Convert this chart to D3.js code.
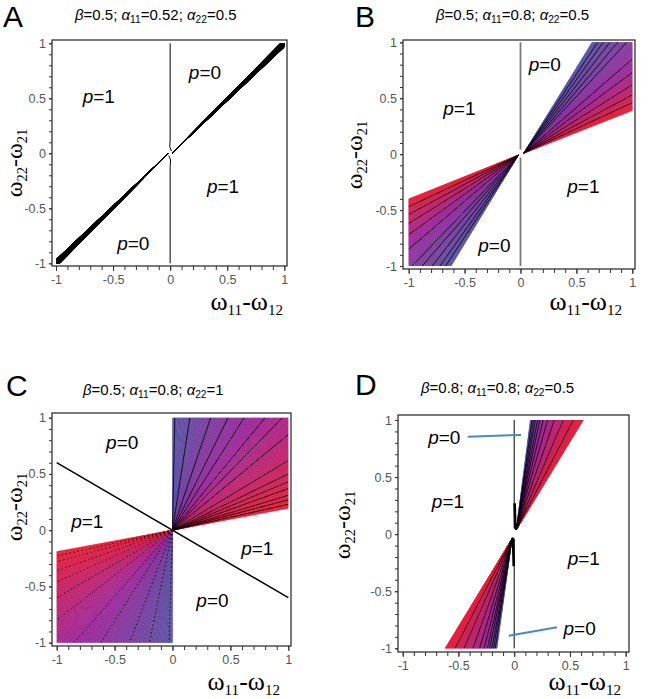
<!DOCTYPE html>
<html>
<head>
<meta charset="utf-8">
<script src="https://cdn.jsdelivr.net/npm/d3@7"></script>
<style>
  body { margin: 0; background: #fff; }
  svg { display: block; }
</style>
</head>
<body>
<svg width="656" height="699"></svg>
<script>
// axis ticks (same on every panel)
var majorTicks = [-1, -0.5, 0, 0.5, 1];
var minorTicks = [-1, -0.9, -0.8, -0.7, -0.6, -0.5, -0.4, -0.3, -0.2, -0.1, 0,
                  0.1, 0.2, 0.3, 0.4, 0.5, 0.6, 0.7, 0.8, 0.9, 1];

// panel parameters (titles)
var panelNames = ["A", "B", "C", "D"];
var betaVals = ["0.5", "0.5", "0.5", "0.8"];
var alpha11Vals = ["0.52", "0.8", "0.8", "0.8"];
var alpha22Vals = ["0.5", "0.5", "1", "0.5"];

// contour fans: apex, then where each contour ray meets the square, from p=0 (blue) edge to p=1 (red) edge
var apexA1 = [0.02, 0.005], raysA1 = [[0.965, 1], [1, 0.965]];
var apexA2 = [-0.02, -0.005], raysA2 = [[-0.965, -1], [-1, -0.965]];

var apexB1 = [0.03, 0.01];
var raysB1 = [[0.64, 1], [0.69, 1], [0.74, 1], [0.80, 1], [0.87, 1], [0.95, 1],
              [1, 0.85], [1, 0.73], [1, 0.62], [1, 0.53], [1, 0.46], [1, 0.39]];
var apexB2 = [-0.02, -0.01];
var raysB2 = [[-0.62, -1], [-0.67, -1], [-0.72, -1], [-0.79, -1], [-0.88, -1], [-0.97, -1],
              [-1, -0.85], [-1, -0.72], [-1, -0.62], [-1, -0.54], [-1, -0.47], [-1, -0.40]];

var apexC1 = [0, 0];
var raysC1 = [[0, 1], [0.02, 1], [0.15, 1], [0.33, 1], [0.48, 1], [0.62, 1], [0.80, 1], [0.95, 1],
              [1, 0.85], [1, 0.62], [1, 0.50], [1, 0.43], [1, 0.37], [1, 0.31], [1, 0.27], [1, 0.23], [1, 0.195]];
var apexC2 = [0, 0];
var raysC2 = [[0, -1], [-0.03, -1], [-0.2, -1], [-0.37, -1], [-0.62, -1], [-0.85, -1],
              [-1, -0.8], [-1, -0.6], [-1, -0.46], [-1, -0.36], [-1, -0.28], [-1, -0.23], [-1, -0.19]];

var apexD1 = [0.02, 0.04];
var raysD1 = [[0.145, 1], [0.16, 1], [0.175, 1], [0.19, 1], [0.21, 1], [0.23, 1],
              [0.26, 1], [0.30, 1], [0.36, 1], [0.44, 1], [0.53, 1], [0.62, 1]];
var apexD2 = [-0.02, -0.04];
var raysD2 = [[-0.155, -1], [-0.17, -1], [-0.185, -1], [-0.20, -1], [-0.22, -1], [-0.24, -1],
              [-0.27, -1], [-0.31, -1], [-0.37, -1], [-0.45, -1], [-0.53, -1], [-0.62, -1]];

// boundary curves
var lineA1 = [[0, 1], [0, 0.12], [-0.004, 0.06], [0.012, 0.02]];
var lineA2 = [[0, -1], [0, -0.12], [0.004, -0.06], [-0.012, -0.02]];
var lineB1 = [[0, 1], [0, 0.04]];
var lineB2 = [[0, -0.03], [0, -1]];
var lineC1 = [[-1, 0.6], [1, -0.6]];
var lineD1 = [[0, 1], [0, 0.05]];
var lineD2 = [[0, -0.04], [0, -1]];
var lineD3 = [[0.004, 0.27], [0.01, 0.06], [0.02, 0.04]];
var lineD4 = [[-0.004, -0.28], [-0.01, -0.05], [-0.02, -0.03]];
var pointerD1 = [[-0.417, 0.854], [0.061, 0.869]];
var pointerD2 = [[-0.049, -0.891], [0.384, -0.815]];

// region labels: [x, y, p]
var labelsA = [[-0.625, 0.46, 1], [0.305, 0.68, 0], [0.463, -0.358, 1], [-0.323, -0.879, 0]];
var labelsB = [[-0.547, 0.35, 1], [0.217, 0.746, 0], [0.562, -0.35, 1], [-0.234, -0.872, 0]];
var labelsC = [[-0.434, 0.719, 0], [-0.736, 0.017, 1], [0.732, -0.22, 1], [0.345, -0.68, 0]];
var labelsD = [[-0.627, 0.79, 0], [-0.594, 0.227, 1], [0.624, -0.27, 1], [0.587, -0.883, 0]];

var svg = d3.select("svg");
var blue = "#5a56a6", purple = "#9e2a9c", red = "#e9203a";

var panels = [
  { frame: [52, 40, 287, 266], xr: [56, 284.3], yr: [263.3, 43.3],
    letter: [3, 27], title: [75, 20], xlab: [283, 310], ylab: [22, 163],
    wedges: [{ apex: apexA1, rays: raysA1, fill: "#000" }, { apex: apexA2, rays: raysA2, fill: "#000" }],
    lines: [{ pts: lineA1, color: "#000", width: 1 }, { pts: lineA2, color: "#000", width: 1 }],
    labels: labelsA },
  { frame: [403, 40, 635, 269], xr: [408.7, 632.3], yr: [266, 42.3],
    letter: [355, 27], title: [436, 20], xlab: [622, 310], ylab: [362, 155],
    wedges: [{ apex: apexB1, rays: raysB1, mid: 0.55 }, { apex: apexB2, rays: raysB2, mid: 0.55 }],
    lines: [{ pts: lineB1, color: "#7a7a7a", width: 1.8 }, { pts: lineB2, color: "#7a7a7a", width: 1.8 }],
    labels: labelsB },
  { frame: [52, 413, 291, 646], xr: [56.7, 288.3], yr: [642.7, 417.7],
    letter: [6, 396], title: [83, 395], xlab: [280, 690], ylab: [22, 507],
    wedges: [{ apex: apexC1, rays: raysC1, mid: 0.45 }, { apex: apexC2, rays: raysC2, mid: 0.5, dash: "1.5,2.5" }],
    lines: [{ pts: lineC1, color: "#000", width: 1.5 }],
    labels: labelsC },
  { frame: [398, 415, 629, 652], xr: [402.7, 625.7], yr: [648.3, 420],
    letter: [355, 395], title: [421, 393], xlab: [621, 690], ylab: [350, 525],
    wedges: [{ apex: apexD1, rays: raysD1, mid: 0.25 }, { apex: apexD2, rays: raysD2, mid: 0.25 }],
    lines: [{ pts: lineD1, color: "#000", width: 1 }, { pts: lineD2, color: "#000", width: 1 },
            { pts: lineD3, color: "#000", width: 2.6 }, { pts: lineD4, color: "#000", width: 2.6 },
            { pts: pointerD1, color: "#4a88c6", width: 2 }, { pts: pointerD2, color: "#4a88c6", width: 2 }],
    labels: labelsD }
];

// text with italic / subscript pieces
function rich(text, parts, size, ratio, drop) {
  var shift = 0;
  parts.forEach(function(p) {
    var t = text.append("tspan").text(p[0]);
    if (p[1] === "i") t.attr("font-style", "italic");
    if (p[1] === "sub") {
      t.attr("font-size", (size * ratio) + "px").attr("dy", (size * drop) - shift);
      shift = size * drop;
    } else if (shift) {
      t.attr("dy", -shift);
      shift = 0;
    }
  });
}

panels.forEach(function(cfg, k) {
  var x = d3.scaleLinear().domain([-1, 1]).range(cfg.xr);
  var y = d3.scaleLinear().domain([-1, 1]).range(cfg.yr);
  var line = d3.line().x(function(d) { return x(d[0]); }).y(function(d) { return y(d[1]); });
  var g = svg.append("g");

  var clipId = "clip" + panelNames[k];
  svg.append("clipPath").attr("id", clipId).append("rect")
    .attr("x", x(-1)).attr("y", y(1))
    .attr("width", x(1) - x(-1)).attr("height", y(-1) - y(1));
  var plot = g.append("g").attr("clip-path", "url(#" + clipId + ")");

  // colour fans, colour follows the angle from the p=0 edge to the p=1 edge
  cfg.wedges.forEach(function(w) {
    var n = w.rays.length, steps = 120;
    var ang = w.rays.map(function(r) { return Math.atan2(r[1] - w.apex[1], r[0] - w.apex[0]); });
    var a0 = ang[0], a1 = ang[n - 1];
    var color = d3.scaleLinear().domain([0, w.mid || 0.5, 1]).range([blue, purple, red]);
    var far = function(a) { return [w.apex[0] + 4 * Math.cos(a), w.apex[1] + 4 * Math.sin(a)]; };
    var slices = d3.range(steps).map(function(j) {
      return { s0: a0 + (a1 - a0) * j / steps, s1: a0 + (a1 - a0) * (j + 1) / steps, t: (j + 0.5) / steps };
    });
    plot.append("g").selectAll("path")
      .data(slices)
      .enter().append("path")
      .attr("d", function(s) { return line([w.apex, far(s.s0), far(s.s1)]) + "Z"; })
      .attr("fill", function(s) { return w.fill || color(s.t); })
      .attr("stroke", function(s) { return w.fill || color(s.t); })
      .attr("stroke-width", 0.6);

    // contour lines
    plot.append("g").selectAll("line")
      .data(w.rays.slice(1, n - 1))
      .enter().append("line")
      .attr("x1", x(w.apex[0])).attr("y1", y(w.apex[1]))
      .attr("x2", function(d) { return x(d[0]); })
      .attr("y2", function(d) { return y(d[1]); })
      .attr("stroke", "#000")
      .attr("stroke-width", 0.8)
      .attr("stroke-dasharray", w.dash || null);
  });

  cfg.lines.forEach(function(l) {
    g.append("path").attr("d", line(l.pts))
      .attr("fill", "none").attr("stroke", l.color).attr("stroke-width", l.width);
  });

  // frame
  var f = cfg.frame;
  g.append("rect").attr("x", f[0]).attr("y", f[1])
    .attr("width", f[2] - f[0]).attr("height", f[3] - f[1])
    .attr("fill", "none").attr("stroke", "#222").attr("stroke-width", 1.2);

  // axes
  var fmt = function(d) { return String(d); };
  g.append("g").attr("transform", "translate(0," + f[3] + ")")
    .call(d3.axisBottom(x).tickValues(minorTicks).tickSize(4).tickFormat(""));
  g.append("g").attr("transform", "translate(0," + f[3] + ")")
    .call(d3.axisBottom(x).tickValues(majorTicks).tickSize(5).tickPadding(4).tickFormat(fmt));
  g.append("g").attr("transform", "translate(" + f[0] + ",0)")
    .call(d3.axisLeft(y).tickValues(minorTicks).tickSize(3).tickFormat(""));
  g.append("g").attr("transform", "translate(" + f[0] + ",0)")
    .call(d3.axisLeft(y).tickValues(majorTicks).tickSize(3).tickPadding(3).tickFormat(fmt));
  g.selectAll(".domain").remove();
  g.selectAll(".tick line").attr("stroke", "#333");
  g.selectAll(".tick text").attr("fill", "#555")
    .style("font-family", "Arial, 'Liberation Sans', sans-serif").style("font-size", "12.5px");

  // region labels
  cfg.labels.forEach(function(d) {
    var t = g.append("text").attr("x", x(d[0])).attr("y", y(d[1]))
      .attr("text-anchor", "middle")
      .style("font-family", "Arial, 'Liberation Sans', sans-serif").style("font-size", "19px");
    rich(t, [["p", "i"], ["=" + d[2], ""]], 19, 1, 0);
  });

  // panel letter and title
  svg.append("text").attr("x", cfg.letter[0]).attr("y", cfg.letter[1])
    .style("font-family", "Arial, 'Liberation Sans', sans-serif").style("font-size", "30px")
    .text(panelNames[k]);
  var title = svg.append("text").attr("x", cfg.title[0]).attr("y", cfg.title[1])
    .style("font-family", "Arial, 'Liberation Sans', sans-serif").style("font-size", "15px");
  rich(title, [["β", "i"], ["=" + betaVals[k] + "; ", ""], ["α", "i"], ["11", "sub"],
               ["=" + alpha11Vals[k] + "; ", ""], ["α", "i"], ["22", "sub"], ["=" + alpha22Vals[k], ""]],
       15, 0.68, 0.22);

  // axis titles
  var xt = svg.append("text").attr("x", cfg.xlab[0]).attr("y", cfg.xlab[1])
    .attr("text-anchor", "end")
    .style("font-family", "'Times New Roman', 'Liberation Serif', serif").style("font-size", "26px");
  rich(xt, [["ω", ""], ["11", "sub"], ["-ω", ""], ["12", "sub"]], 26, 0.58, 0.2);
  var yt = svg.append("text")
    .attr("transform", "translate(" + cfg.ylab[0] + "," + cfg.ylab[1] + ") rotate(-90)")
    .attr("text-anchor", "middle")
    .style("font-family", "'Times New Roman', 'Liberation Serif', serif").style("font-size", "24px");
  rich(yt, [["ω", ""], ["22", "sub"], ["-ω", ""], ["21", "sub"]], 24, 0.6, 0.2);
});
</script>
</body>
</html>
